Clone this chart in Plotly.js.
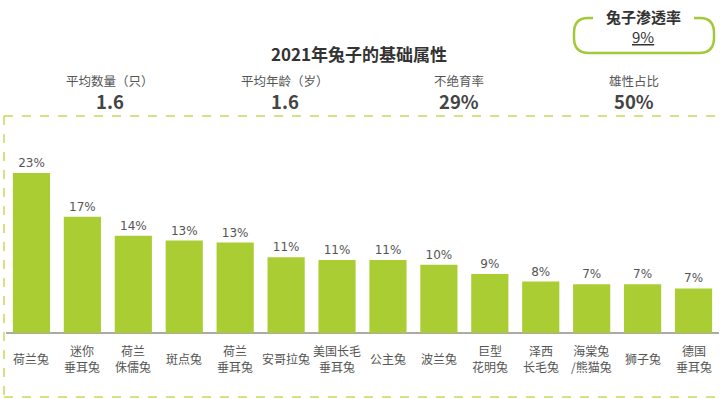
<!DOCTYPE html>
<html>
<head>
<meta charset="utf-8">
<script src="https://cdn.plot.ly/plotly-3.0.1.min.js"></script>
<style>html,body{margin:0;padding:0;background:#fff;}#chart{width:720px;height:399px;}</style>
</head>
<body>
<div id="chart"></div>
<script>
// ---- data ----
const categories = ["荷兰兔","迷你<br>垂耳兔","荷兰<br>侏儒兔","斑点兔","荷兰<br>垂耳兔","安哥拉兔","美国长毛<br>垂耳兔","公主兔","波兰兔","巨型<br>花明兔","泽西<br>长毛兔","海棠兔<br>/熊猫兔","狮子兔","德国<br>垂耳兔"];
const barHeights = [23, 16.7, 14.0, 13.3, 13.0, 10.9, 10.5, 10.5, 9.8, 8.5, 7.4, 7.0, 7.0, 6.4];
const barLabels = ["23%","17%","14%","13%","13%","11%","11%","11%","10%","9%","8%","7%","7%","7%"];
const statNames = ["平均数量（只）","平均年龄（岁）","不绝育率","雄性占比"];
const statValues = ["1.6","1.6","29%","50%"];
const badgeTitle = "兔子渗透率";
const badgeValue = "9%";
const chartTitle = "2021年兔子的基础属性";

// ---- layout helpers (pixel -> paper) ----
const W = 720, H = 399, ML = 6, MR = 1, MT = 116, MB = 66;
const PW = W - ML - MR, PH = H - MT - MB;
const px = x => (x - ML) / PW;
const py = y => (H - MB - y) / PH;

const green = "#abcd34";
const dashCol = "#c9d95a";

const annotations = [];
categories.forEach(c => {
  annotations.push({x: c, xref: "x", y: py(358), yref: "paper", text: c, showarrow: false,
    xanchor: "center", yanchor: "middle", align: "center",
    font: {family: "Noto Sans CJK SC", size: 12, color: "#555"}});
});
const statX = [110, 285, 459, 634];
statNames.forEach((n, i) => {
  annotations.push({x: px(statX[i]), xref: "paper", y: py(80.5), yref: "paper", text: n, showarrow: false,
    xanchor: "center", yanchor: "middle", borderpad: 0, font: {family: "Noto Sans CJK SC", size: 12.5, color: "#555"}});
  annotations.push({x: px(statX[i]), xref: "paper", y: py(101.5), yref: "paper", text: "<b>" + statValues[i] + "</b>", showarrow: false,
    xanchor: "center", yanchor: "middle", borderpad: 0, font: {family: "Noto Sans CJK SC", size: 18.5, color: "#444"}});
});
annotations.push({x: px(643), xref: "paper", y: py(16), yref: "paper", text: "<b>" + badgeTitle + "</b>", showarrow: false,
  xanchor: "center", yanchor: "middle", borderpad: 0, font: {family: "Noto Sans CJK SC", size: 15, color: "#333"}});
annotations.push({x: px(643), xref: "paper", y: py(36), yref: "paper", text: "<u>" + badgeValue + "</u>", showarrow: false,
  xanchor: "center", yanchor: "middle", borderpad: 0, font: {family: "Noto Sans CJK SC", size: 15, color: "#333"}});

function P(x, y) { return px(x).toFixed(5) + "," + py(y).toFixed(5); }
const badgePath = "M" + P(593, 18) + " L" + P(588, 18) + " Q" + P(574, 18) + " " + P(574, 33) +
  " L" + P(574, 38) + " Q" + P(574, 53) + " " + P(589, 53) + " L" + P(699, 53) +
  " Q" + P(714, 53) + " " + P(714, 38) + " L" + P(714, 33) + " Q" + P(714, 18) + " " + P(700, 18) + " L" + P(694, 18);

const shapes = [
  {type: "line", xref: "paper", yref: "paper", x0: px(4), x1: px(716), y0: py(116), y1: py(116), line: {color: dashCol, width: 1.5, dash: "dash"}},
  {type: "line", xref: "paper", yref: "paper", x0: px(4), x1: px(716), y0: py(397), y1: py(397), line: {color: dashCol, width: 1.5, dash: "dash"}},
  {type: "line", xref: "paper", yref: "paper", x0: px(4), x1: px(4), y0: py(116), y1: py(397), line: {color: dashCol, width: 1.5, dash: "dash"}},
  {type: "path", xref: "paper", yref: "paper", path: badgePath, line: {color: "#a3c83a", width: 2.5}}
];

const trace = {
  type: "bar", x: categories, y: barHeights, text: barLabels, texttemplate: "%{text}",
  textposition: "outside", cliponaxis: false,
  textfont: {family: "DejaVu Sans", size: 12, color: "#555"},
  marker: {color: green}, hoverinfo: "none"
};

const layout = {
  width: W, height: H,
  margin: {l: ML, r: MR, t: MT, b: MB, pad: 0},
  paper_bgcolor: "#fff", plot_bgcolor: "#fff",
  title: {text: "<b>" + chartTitle + "</b>", xref: "container", yref: "container", x: 359 / W, y: 1 - 55 / H,
    xanchor: "center", yanchor: "middle", font: {family: "Noto Sans CJK SC", size: 17, color: "#333"}},
  bargap: 0.27,
  showlegend: false,
  xaxis: {showticklabels: false, showgrid: false, zeroline: false, showline: false, ticks: "", fixedrange: true},
  yaxis: {range: [0, 31.2], showticklabels: false, showgrid: false, zeroline: true, zerolinecolor: "#aaa", zerolinewidth: 1.5, showline: false, ticks: ""},
  annotations: annotations,
  shapes: shapes
};

Plotly.newPlot("chart", [trace], layout, {displayModeBar: false, staticPlot: true});
</script>
</body>
</html>
